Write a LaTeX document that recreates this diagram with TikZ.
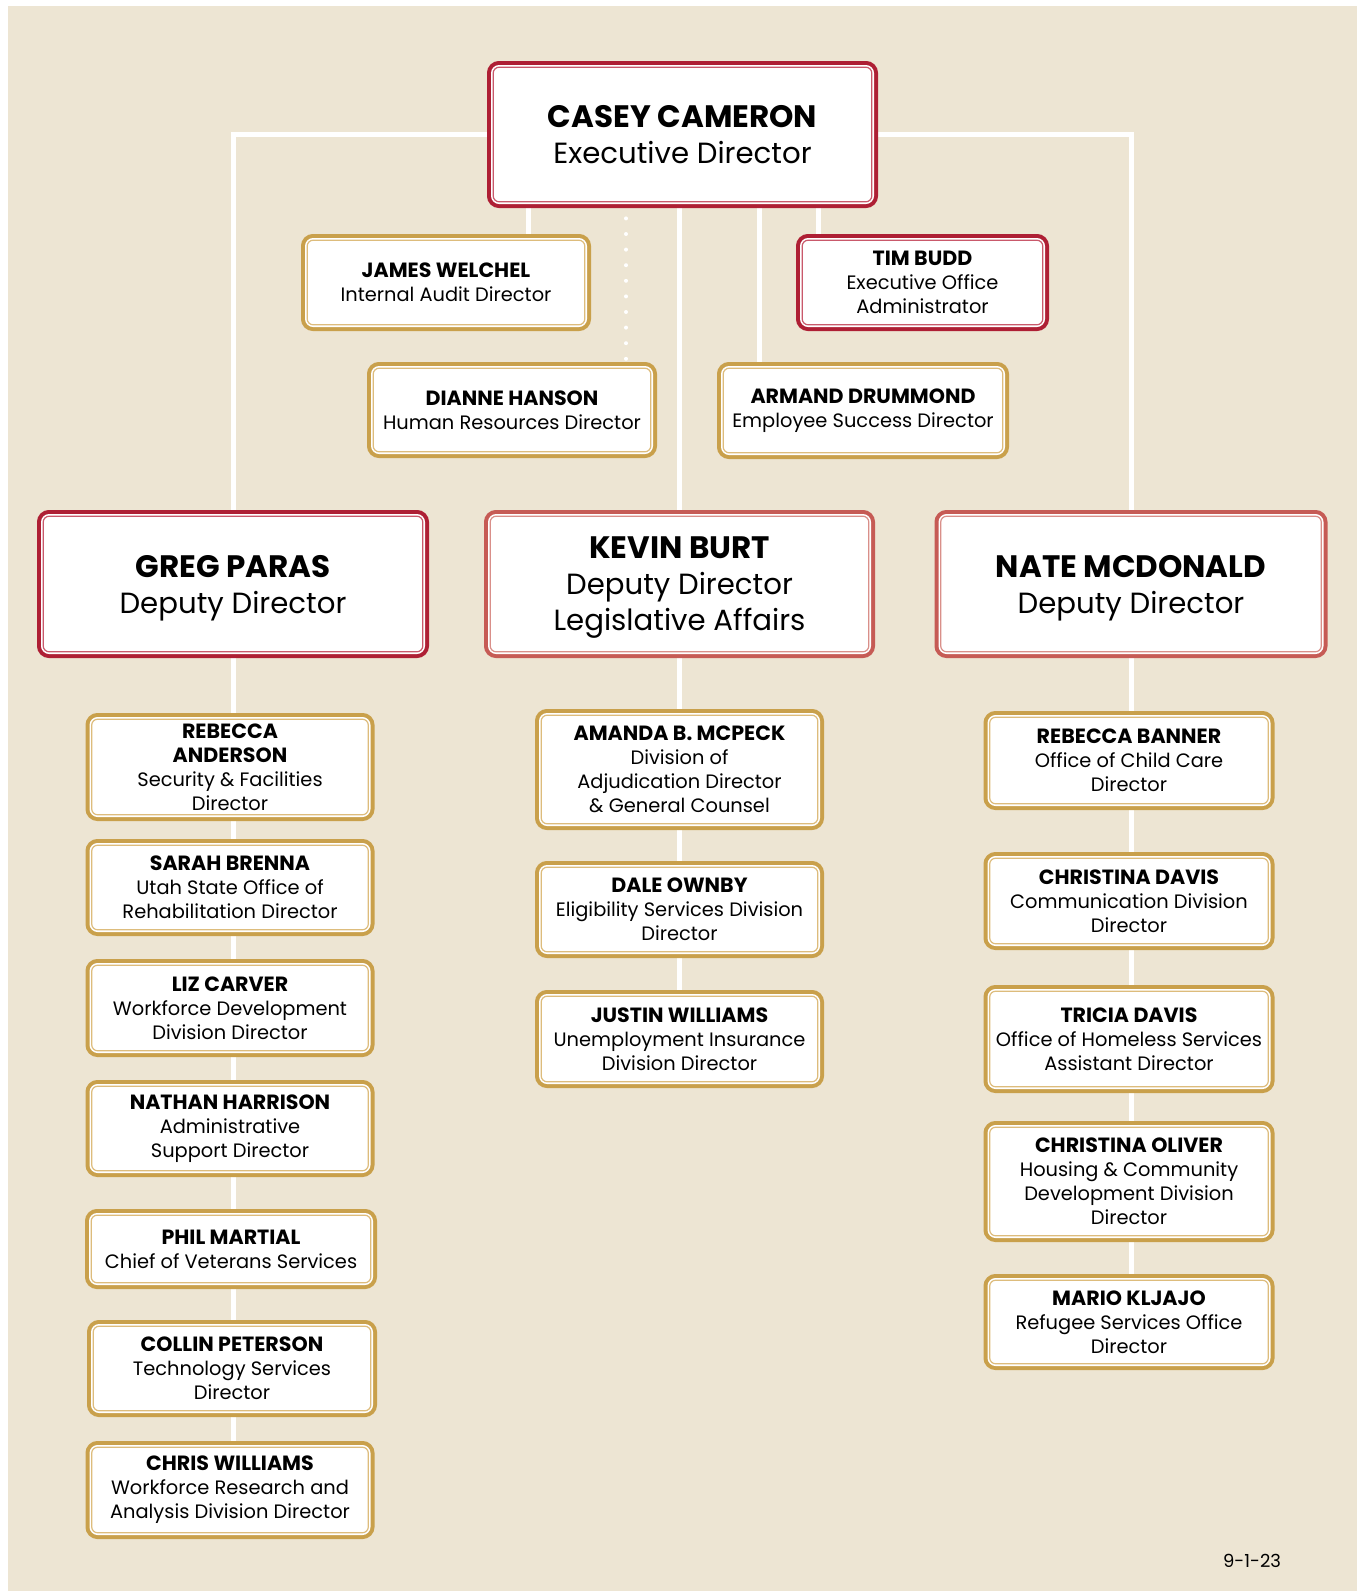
\documentclass[tikz,border=0pt]{standalone}
\usepackage{fontspec}
\setmainfont{Poppins}
\usetikzlibrary{backgrounds}
\definecolor{sand}{HTML}{EDE5D3}
\definecolor{crimson}{HTML}{AE1F34}
\definecolor{crimsonin}{HTML}{C9596B}
\definecolor{salmon}{HTML}{C65B55}
\definecolor{salmonin}{HTML}{D98F89}
\definecolor{gold}{HTML}{C9A04B}
\definecolor{goldin}{HTML}{DDBC7C}
\newcommand{\who}[1]{{\fontsize{10.3}{12}\selectfont\bfseries #1}}
\newcommand{\chief}[1]{{\fontsize{15.5}{18}\selectfont\bfseries #1}}
\tikzset{
  box/.style={fill=white, draw=#1in, line width=.6pt, rounded corners=3pt,
    preaction={draw=#1, line width=6.2pt},
    preaction={draw=white, line width=2.2pt},
    inner sep=0pt, align=center},
  small/.style={box=#1, font=\fontsize{9.7}{12}\selectfont},
  big/.style={box=#1, font=\fontsize{14.6}{18}\selectfont, text depth=-5pt},
  wd/.style={minimum width={#1*0.5pt-6.2pt}},
  ht/.style={minimum height={#1*0.5pt-6.2pt}},
  link/.style={draw=white, line width=2.5pt},
}
\begin{document}
\begin{tikzpicture}[x=0.5pt, y=-0.5pt]
  \useasboundingbox (0,0) rectangle (1357,1591);

  % executive office
  \node[big=crimson, wd=391, ht=147] (cc) at (682.5,134.5) {\chief{CASEY CAMERON}\\Executive Director};
  \node[small=gold, wd=290, ht=97] (jw) at (446,282.5) {\who{JAMES WELCHEL}\\Internal Audit Director};
  \node[small=crimson, wd=253, ht=97] (tb) at (922.5,282.5) {\who{TIM BUDD}\\Executive Office\\Administrator};
  \node[small=gold, wd=290, ht=96] (dh) at (512,410) {\who{DIANNE HANSON}\\Human Resources Director};
  \node[small=gold, wd=292, ht=97] (ad) at (863,410.5) {\who{ARMAND DRUMMOND}\\Employee Success Director};

  % deputies
  \node[big=crimson, wd=392, ht=148] (gp) at (233,584) {\chief{GREG PARAS}\\Deputy Director};
  \node[big=salmon, wd=391, ht=148] (kb) at (679.5,584) {\chief{KEVIN BURT}\\Deputy Director\\Legislative Affairs};
  \node[big=salmon, wd=393, ht=148] (nm) at (1131,584) {\chief{NATE MCDONALD}\\Deputy Director};

  % left column
  \node[small=gold, wd=289, ht=108] (ra) at (230,767) {\who{REBECCA}\\\who{ANDERSON}\\Security \& Facilities\\Director};
  \node[small=gold, wd=289, ht=97] (sb) at (230,887.5) {\who{SARAH BRENNA}\\Utah State Office of\\Rehabilitation Director};
  \node[small=gold, wd=289, ht=98] (lc) at (230,1008) {\who{LIZ CARVER}\\Workforce Development\\Division Director};
  \node[small=gold, wd=289, ht=97] (nh) at (230,1128.5) {\who{NATHAN HARRISON}\\Administrative\\Support Director};
  \node[small=gold, wd=292, ht=80] (pm) at (231,1249) {\who{PHIL MARTIAL}\\Chief of Veterans Services};
  \node[small=gold, wd=290, ht=97] (cp) at (232,1368.5) {\who{COLLIN PETERSON}\\Technology Services\\Director};
  \node[small=gold, wd=289, ht=98] (cw) at (230,1490) {\who{CHRIS WILLIAMS}\\Workforce Research and\\Analysis Division Director};

  % middle column
  \node[small=gold, wd=289, ht=121] (am) at (679.5,769.5) {\who{AMANDA B. MCPECK}\\Division of\\Adjudication Director\\\& General Counsel};
  \node[small=gold, wd=289, ht=97] (do) at (679.5,909.5) {\who{DALE OWNBY}\\Eligibility Services Division\\Director};
  \node[small=gold, wd=289, ht=98] (jn) at (679.5,1039) {\who{JUSTIN WILLIAMS}\\Unemployment Insurance\\Division Director};

  % right column
  \node[small=gold, wd=291, ht=99] (rb) at (1129,760.5) {\who{REBECCA BANNER}\\Office of Child Care\\Director};
  \node[small=gold, wd=291, ht=98] (cd) at (1129,901) {\who{CHRISTINA DAVIS}\\Communication Division\\Director};
  \node[small=gold, wd=291, ht=108] (td) at (1129,1039) {\who{TRICIA DAVIS}\\Office of Homeless Services\\Assistant Director};
  \node[small=gold, wd=291, ht=121] (co) at (1129,1181.5) {\who{CHRISTINA OLIVER}\\Housing \& Community\\Development Division\\Director};
  \node[small=gold, wd=291, ht=96] (mk) at (1129,1322) {\who{MARIO KLJAJO}\\Refugee Services Office\\Director};

  \node[font=\fontsize{9}{11}\selectfont] (dt) at (1252,1561) {9-1-23};

  \begin{scope}[on background layer]
    \fill[sand] (8,6) rectangle (1357,1591);
    \coordinate (xa) at (528,0);
    \coordinate (xb) at (626,0);
    \coordinate (xc) at (759,0);
    \coordinate (xd) at (818,0);
    \draw[link] (cc.west) -| (gp.north);
    \draw[link] (cc.east) -| (nm.north);
    \draw[link] (cc.south -| xa) -- (jw.north -| xa);
    \draw[link, line width=2pt, line cap=round, dash pattern=on 0pt off 7.8pt] (cc.south -| xb) ++(0,16) -- (dh.north -| xb);
    \draw[link] (cc.south -| kb.north) -- (kb.north);
    \draw[link] (cc.south -| xc) -- (ad.north -| xc);
    \draw[link] (cc.south -| xd) -- (tb.north -| xd);
    \draw[link] (gp.south) -- (gp.south |- cw.north);
    \draw[link] (kb.south) -- (jn.north);
    \draw[link] (nm.south) -- (nm.south |- mk.north);
  \end{scope}
\end{tikzpicture}
\end{document}
